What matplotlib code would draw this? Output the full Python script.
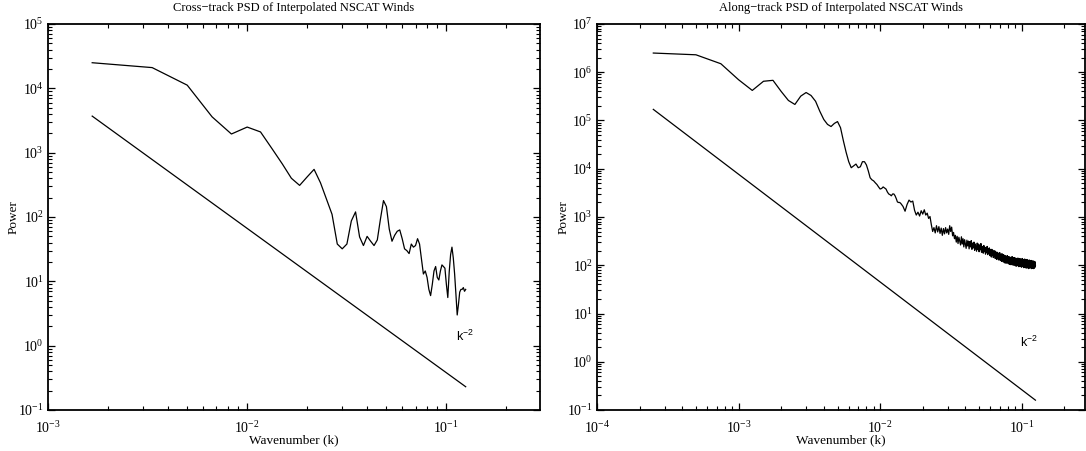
import numpy as np
import matplotlib
matplotlib.use('Agg')
import matplotlib.pyplot as plt
from matplotlib.ticker import FixedLocator, NullFormatter

plt.rcParams['font.family'] = 'Liberation Serif'
plt.rcParams['mathtext.fontset'] = 'custom'
plt.rcParams['mathtext.rm'] = 'Liberation Serif'
plt.rcParams['mathtext.it'] = 'Liberation Serif:italic'

# cross-track spectrum, k = n/600
cross_power = [2.5e4, 2.1e4, 1.12e4, 3.6e3, 1.95e3, 2.5e3, 2.1e3, 1.15e3, 670, 400,
               310, 420, 550, 340, 190, 110, 38, 32, 38, 87,
               120, 49, 36, 50, 42, 36, 44, 93, 180, 145,
               65, 42, 52, 60, 63, 46, 32, 30, 27, 38,
               34, 36, 46, 38, 22, 13, 14.5, 11.5, 7.5, 6,
               9, 14.5, 17, 11.5, 10.5, 14.5, 18, 17, 16, 9,
               5.6, 14, 26, 34, 23, 13, 6.3, 3.0, 4.4, 6.8,
               7.5, 7.5, 8, 7, 7.5]
cross_ref_k = [1/600, 0.125]
cross_ref_p = [3.7e3, 0.23]

# along-track spectrum, k = n/4000
along_power_head = [2.5e6, 2.3e6, 1.5e6, 7e5, 4.2e5, 6.5e5, 6.8e5, 4.0e5, 2.6e5, 2.15e5,
                    3.2e5, 3.8e5, 3.3e5, 2.5e5, 1.55e5, 1.05e5, 8.3e4, 7.5e4, 8.7e4, 9.5e4,
                    7.1e4, 3.8e4, 2.2e4, 1.4e4, 1.05e4, 1.15e4, 1.25e4, 1.05e4, 1.1e4, 1.4e4,
                    1.4e4, 1.2e4, 9e3, 6.5e3, 5.9e3, 5.6e3, 5.1e3, 4.7e3, 4.2e3, 3.8e3,
                    3.9e3, 4.2e3, 4.0e3, 3.8e3, 3.3e3, 3.0e3, 2.9e3, 2.75e3, 3.0e3, 3.0e3,
                    2.75e3, 2.4e3, 2.05e3, 2.0e3, 2.0e3]
# tail, every second sample from n=56, given as log10(power)
along_tail_log10 = [
    3.28, 3.22, 3.12, 3.26, 3.35, 3.31, 3.33, 3.14, 3.04, 3.10,
    3.02, 3.13, 3.06, 3.15, 3.04, 3.08, 2.97, 3.01, 2.84, 2.70,
    2.78, 2.67, 2.82, 2.69, 2.80, 2.66, 2.77, 2.62, 2.76, 2.65,
    2.78, 2.67, 2.75, 2.64, 2.82, 2.70, 2.79, 2.61, 2.68, 2.55,
    2.62, 2.48, 2.60, 2.45, 2.58, 2.50, 2.42, 2.59, 2.44, 2.55,
    2.38, 2.53, 2.44, 2.35, 2.52, 2.40, 2.50, 2.34, 2.49, 2.38,
    2.51, 2.33, 2.46, 2.36, 2.48, 2.31, 2.44, 2.37, 2.29, 2.46,
    2.33, 2.44, 2.28, 2.42, 2.32, 2.45, 2.27, 2.39, 2.30, 2.25,
    2.41, 2.28, 2.37, 2.23, 2.37, 2.26, 2.39, 2.22, 2.34, 2.24,
    2.36, 2.20, 2.33, 2.23, 2.17, 2.33, 2.21, 2.31, 2.16, 2.29,
    2.18, 2.30, 2.14, 2.28, 2.17, 2.12, 2.27, 2.15, 2.25, 2.11,
    2.25, 2.13, 2.26, 2.10, 2.22, 2.13, 2.08, 2.24, 2.11, 2.21,
    2.07, 2.22, 2.11, 2.05, 2.20, 2.09, 2.19, 2.04, 2.18, 2.08,
    2.20, 2.05, 2.16, 2.03, 2.18, 2.07, 2.02, 2.17, 2.06, 2.15,
    2.01, 2.16, 2.06, 2.18, 2.02, 2.14, 2.00, 2.15, 2.05, 2.16,
    2.01, 2.13, 1.99, 2.15, 2.04, 1.98, 2.14, 2.03, 2.12, 1.99,
    2.15, 2.01, 2.11, 1.97, 2.13, 2.03, 2.14, 1.98, 2.10, 2.00,
    2.13, 1.96, 2.11, 2.02, 2.14, 1.97, 2.09, 1.99, 2.12, 1.95,
    2.10, 2.00, 2.13, 1.96, 2.08, 1.98, 2.11, 1.94, 2.09, 1.99,
    2.12, 1.95, 2.07, 1.97, 2.10, 1.93, 2.08, 1.98, 2.11, 1.94,
    2.06, 2.09, 1.95, 2.08, 1.97, 2.10, 1.93, 2.07, 1.96, 2.09,
    1.94, 2.06, 1.96, 2.09, 1.93, 2.07, 1.97, 2.08, 1.94, 2.06,
    1.96, 2.07, 2.00]
along_ref_k = [1/4000, 0.125]
along_ref_p = [1.7e5, 0.16]

cross_k = np.arange(1, len(cross_power) + 1) / 600
n_head = np.arange(1, len(along_power_head) + 1)
n_tail = 56 + 2 * np.arange(len(along_tail_log10))
along_k = np.concatenate([n_head, n_tail]) / 4000
along_power = np.concatenate([along_power_head, 10 ** np.array(along_tail_log10)])

fig = plt.figure(figsize=(10.86, 4.51), dpi=100)
ax1 = fig.add_axes([0.0442, 0.0909, 0.4530, 0.8559])
ax2 = fig.add_axes([0.5497, 0.0909, 0.4494, 0.8559])


def minor_log_ticks(lo_exp, hi_exp):
    dec = 10.0 ** np.arange(lo_exp, hi_exp)
    return np.outer(dec, np.arange(2, 10)).ravel()


def style(ax, xr, yr, ylab_x):
    ax.set_xscale('log')
    ax.set_yscale('log')
    ax.set_xticks(10.0 ** np.arange(xr[0], xr[1] + 1))
    ax.set_yticks(10.0 ** np.arange(yr[0], yr[1] + 1))
    ax.xaxis.set_minor_locator(FixedLocator(minor_log_ticks(xr[0], xr[1] + 1)))
    ax.yaxis.set_minor_locator(FixedLocator(minor_log_ticks(yr[0], yr[1])))
    ax.xaxis.set_minor_formatter(NullFormatter())
    ax.yaxis.set_minor_formatter(NullFormatter())
    ax.tick_params(which='both', direction='in', top=True, right=True, labelsize=10)
    ax.tick_params(axis='x', which='major', pad=7)
    ax.tick_params(axis='y', which='major', pad=3)
    ax.tick_params(which='major', length=5, width=0.9)
    ax.tick_params(which='minor', length=3, width=0.8)
    for s in ax.spines.values():
        s.set_linewidth(1.3)
    ax.set_xlabel('Wavenumber (k)', fontsize=9.5, labelpad=-1)
    ax.set_ylabel('Power', fontsize=9.5)
    ax.yaxis.set_label_coords(ylab_x, 0.5)


ax1.plot(cross_k, cross_power, color='black', lw=0.9)
ax1.plot(cross_ref_k, cross_ref_p, color='black', lw=0.9)
ax1.text(0.112, 1.2, '$\\mathregular{k^{-2}}$', family='Liberation Sans', fontsize=9)
style(ax1, (-3, -1), (-1, 5), -0.058)
ax1.set_xlim(1e-3, 0.295)
ax1.set_ylim(1e-1, 1e5)
ax1.set_title('Cross\u2212track PSD of Interpolated NSCAT Winds', fontsize=9, pad=9)

ax2.plot(along_k, along_power, color='black', lw=0.9)
ax2.plot(along_ref_k, along_ref_p, color='black', lw=0.9)
ax2.text(0.098, 2.0, '$\\mathregular{k^{-2}}$', family='Liberation Sans', fontsize=9)
style(ax2, (-4, -1), (-1, 7), -0.056)
ax2.set_xlim(1e-4, 0.28)
ax2.set_ylim(1e-1, 1e7)
ax2.set_title('Along\u2212track PSD of Interpolated NSCAT Winds', fontsize=9, pad=9)

fig.savefig('out.png', dpi=100)
